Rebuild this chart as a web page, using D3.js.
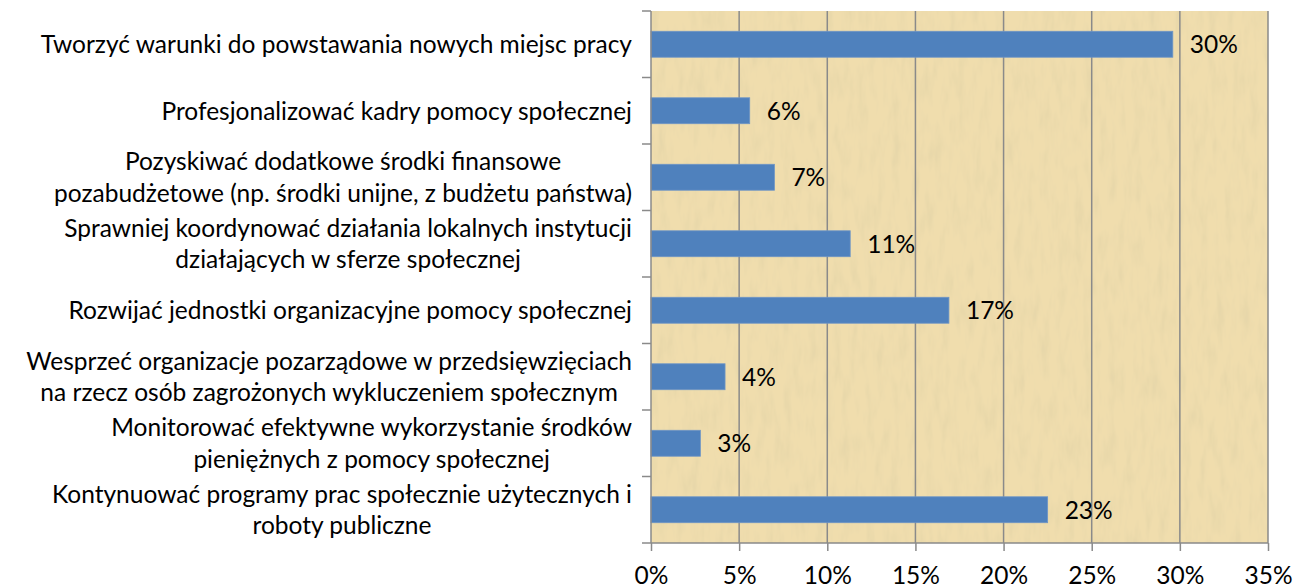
<!doctype html>
<html>
<head>
<meta charset="utf-8">
<title>Bar chart</title>
<script src="https://cdn.jsdelivr.net/npm/d3@7"></script>
<style>
    html, body { margin: 0; padding: 0; background: #fff; }
    svg { display: block; }
    text { font-family: Lato, "Open Sans", sans-serif; fill: #000; }
</style>
</head>
<body>
<svg class="svg"></svg>
<script>
    var categories = [
        ['Tworzyć warunki do powstawania nowych miejsc pracy'],
        ['Profesjonalizować kadry pomocy społecznej'],
        ['Pozyskiwać dodatkowe środki finansowe', 'pozabudżetowe (np. środki unijne, z budżetu państwa)'],
        ['Sprawniej koordynować działania lokalnych instytucji', 'działających w sferze społecznej'],
        ['Rozwijać jednostki organizacyjne pomocy społecznej'],
        ['Wesprzeć organizacje pozarządowe w przedsięwzięciach', 'na rzecz osób zagrożonych wykluczeniem społecznym'],
        ['Monitorować efektywne wykorzystanie środków', 'pieniężnych z pomocy społecznej'],
        ['Kontynuować programy prac społecznie użytecznych i', 'roboty publiczne']
    ];
    var values = [29.6, 5.6, 7.0, 11.3, 16.9, 4.2, 2.8, 22.5];
    var valueLabels = ['30%', '6%', '7%', '11%', '17%', '4%', '3%', '23%'];
    var xTicks = [0, 5, 10, 15, 20, 25, 30, 35];

    var width = 1307, height = 588;
    var margin = {left: 651, right: 39, top: 11, bottom: 45};
    var fontSize = 24.5;

    var svg = d3.select('svg').attr('width', width).attr('height', height);

    var xScale = d3.scaleLinear().domain([0, 35]).range([margin.left, width - margin.right]);
    var yScale = d3.scaleBand().domain(d3.range(categories.length))
        .range([margin.top, height - margin.bottom])
        .paddingInner(0.61).paddingOuter(0.305);

    // papyrus-like background
    var defs = svg.append('defs');
    var filter = defs.append('filter').attr('id', 'paper')
        .attr('x', 0).attr('y', 0).attr('width', '100%').attr('height', '100%');
    filter.append('feTurbulence').attr('type', 'fractalNoise')
        .attr('baseFrequency', '0.12 0.03').attr('numOctaves', 3).attr('seed', 4).attr('result', 'noise');
    filter.append('feColorMatrix').attr('in', 'noise').attr('type', 'matrix')
        .attr('values', '0 0 0 0 0.80  0 0 0 0 0.68  0 0 0 0 0.40  0 0 0 -2.2 1.25')
        .attr('result', 'tint');
    filter.append('feComposite').attr('in', 'tint').attr('in2', 'SourceGraphic').attr('operator', 'atop');

    var plotTop = margin.top, plotBottom = height - margin.bottom;

    svg.append('rect')
        .attr('x', xScale(0)).attr('y', plotTop)
        .attr('width', xScale(35) - xScale(0)).attr('height', plotBottom - plotTop)
        .attr('fill', '#f0ddad')
        .attr('filter', 'url(#paper)');

    // vertical gridlines
    svg.append('g').selectAll('line').data(xTicks.slice(1)).enter().append('line')
        .attr('x1', function(d) { return xScale(d); })
        .attr('x2', function(d) { return xScale(d); })
        .attr('y1', plotTop).attr('y2', plotBottom)
        .attr('stroke', '#8a8a8a').attr('stroke-width', 1.5);

    // bars
    svg.append('g').selectAll('rect').data(values).enter().append('rect')
        .attr('x', xScale(0))
        .attr('y', function(d, i) { return yScale(i); })
        .attr('width', function(d) { return xScale(d) - xScale(0); })
        .attr('height', yScale.bandwidth())
        .attr('fill', '#4f81bd')
        .attr('stroke', '#6e95c6').attr('stroke-width', 0.8);

    // value labels
    svg.append('g').selectAll('text').data(values).enter().append('text')
        .attr('x', function(d) { return xScale(d) + 17; })
        .attr('y', function(d, i) { return yScale(i) + yScale.bandwidth() / 2; })
        .attr('dy', '0.36em')
        .style('font-size', fontSize + 'px')
        .text(function(d, i) { return valueLabels[i]; });

    // x axis
    var xAxis = d3.axisBottom(xScale).tickValues(xTicks)
        .tickFormat(function(d) { return d + '%'; })
        .tickSize(8).tickPadding(16);
    var xAxisGroup = svg.append('g').attr('transform', 'translate(0,' + plotBottom + ')').call(xAxis);
    xAxisGroup.select('.domain').attr('stroke', '#8a8a8a').attr('stroke-width', 1.5)
        .attr('d', 'M' + (xScale(0) - 9) + ',0H' + xScale(35));
    xAxisGroup.selectAll('.tick line').attr('stroke', '#8a8a8a').attr('stroke-width', 1.5);
    xAxisGroup.selectAll('.tick text').style('font-size', fontSize + 'px').attr('fill', '#000')
        .style('font-family', 'Lato, "Open Sans", sans-serif');

    // y axis line + ticks at category boundaries
    var yGroup = svg.append('g');
    yGroup.append('line')
        .attr('x1', xScale(0)).attr('x2', xScale(0))
        .attr('y1', plotTop).attr('y2', plotBottom)
        .attr('stroke', '#8a8a8a').attr('stroke-width', 1.5);
    var step = yScale.step();
    yGroup.selectAll('.yt').data(d3.range(categories.length)).enter().append('line')
        .attr('class', 'yt')
        .attr('x1', xScale(0) - 9).attr('x2', xScale(0))
        .attr('y1', function(d) { return yScale(d) - yScale.paddingOuter() * step; })
        .attr('y2', function(d) { return yScale(d) - yScale.paddingOuter() * step; })
        .attr('stroke', '#8a8a8a').attr('stroke-width', 1.5);

    // category labels
    var lineHeight = 31.5;
    var labelRight = xScale(0) - 19;
    var labels = svg.append('g');
    categories.forEach(function(lines, i) {
        var cy = yScale(i) + yScale.bandwidth() / 2;
        var g = labels.append('g');
        var texts = lines.map(function(line, k) {
            return g.append('text')
                .attr('y', cy + (k - (lines.length - 1) / 2) * lineHeight)
                .attr('dy', '0.36em')
                .style('font-size', fontSize + 'px')
                .text(line);
        });
        if (lines.length === 1) {
            texts[0].attr('x', labelRight).attr('text-anchor', 'end');
        } else {
            var maxW = d3.max(texts, function(t) { return t.node().getComputedTextLength(); });
            texts.forEach(function(t) {
                t.attr('x', labelRight - maxW / 2).attr('text-anchor', 'middle');
            });
        }
    });
</script>
</body>
</html>
